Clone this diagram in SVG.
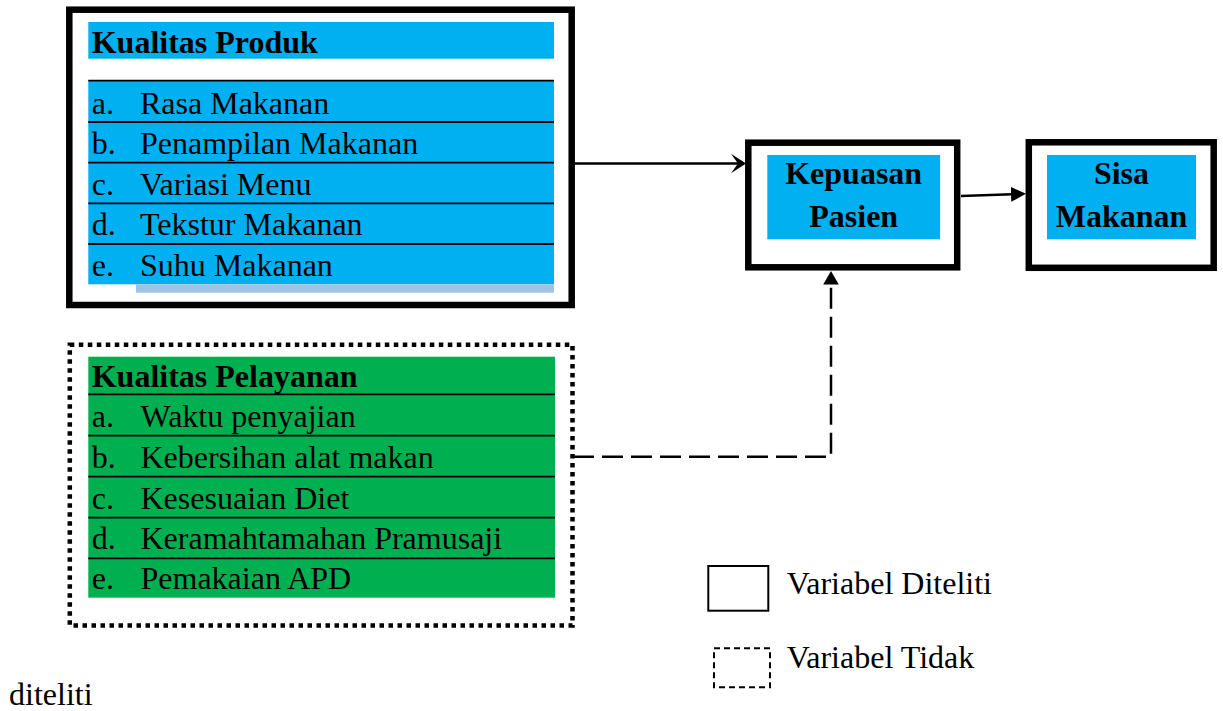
<svg xmlns="http://www.w3.org/2000/svg" width="1223" height="711" viewBox="0 0 1223 711">
<style>
.t{font-family:"Liberation Serif","Times New Roman",serif;font-size:32px;fill:#000}
.b{font-weight:bold}
.c{text-anchor:middle}
.lg{font-size:32px}
.sep{stroke:#000;stroke-width:1.8}
.thick{fill:#fff;stroke:#000;stroke-width:6.5}
.blue{fill:#00B0F0}
.green{fill:#00B050}
.conn{fill:none;stroke:#000;stroke-width:2.5}
</style>
<defs>
<marker id="notch" markerUnits="userSpaceOnUse" markerWidth="16" markerHeight="20" viewBox="0 0 16 20" refX="7" refY="10" orient="auto">
<path d="M0,0.3 L15,10 L0,19.7 L7,10 Z" fill="#000"/>
</marker>
<marker id="tri" markerUnits="userSpaceOnUse" markerWidth="15" markerHeight="16" viewBox="0 0 15 16" refX="1" refY="8" orient="auto">
<path d="M0,0.5 L15,8 L0,15.5 Z" fill="#000"/>
</marker>
</defs>
<rect width="1223" height="711" fill="#fff"/>

<g id="kualitas-produk">
<rect class="thick" x="69.3" y="9.7" width="502.4" height="295.3"/>
<rect class="blue" x="88.3" y="22" width="465.7" height="36.7"/>
<rect class="blue" x="88.3" y="80.3" width="465.7" height="204"/>
<rect x="136" y="284.3" width="418" height="8.4" fill="#9DC3E6"/>
<line class="sep" x1="88.3" y1="80.6" x2="554" y2="80.6"/>
<line class="sep" x1="88.3" y1="122" x2="554" y2="122"/>
<line class="sep" x1="88.3" y1="162.7" x2="554" y2="162.7"/>
<line class="sep" x1="88.3" y1="203.3" x2="554" y2="203.3"/>
<line class="sep" x1="88.3" y1="244" x2="554" y2="244"/>
<text class="t b" x="91.7" y="53.3">Kualitas Produk</text>
<text class="t" x="91.7" y="114">a.</text><text class="t" x="140" y="114">Rasa Makanan</text>
<text class="t" x="91.7" y="154.3">b.</text><text class="t" x="140" y="154.3">Penampilan Makanan</text>
<text class="t" x="91.7" y="195">c.</text><text class="t" x="140" y="195">Variasi Menu</text>
<text class="t" x="91.7" y="235.3">d.</text><text class="t" x="140" y="235.3">Tekstur Makanan</text>
<text class="t" x="91.7" y="276">e.</text><text class="t" x="140" y="276">Suhu Makanan</text>
</g>

<g id="kualitas-pelayanan">
<rect x="69.8" y="344.7" width="502.7" height="280.8" fill="#fff" stroke="#000" stroke-width="4.5" stroke-dasharray="4.5 4.5"/>
<rect class="green" x="88.3" y="356.7" width="466.7" height="241"/>
<line class="sep" x1="88.3" y1="394.3" x2="555" y2="394.3"/>
<line class="sep" x1="88.3" y1="435.7" x2="555" y2="435.7"/>
<line class="sep" x1="88.3" y1="476.7" x2="555" y2="476.7"/>
<line class="sep" x1="88.3" y1="517.7" x2="555" y2="517.7"/>
<line class="sep" x1="88.3" y1="558.3" x2="555" y2="558.3"/>
<text class="t b" x="91.7" y="386.7">Kualitas Pelayanan</text>
<text class="t" x="91.7" y="427.3">a.</text><text class="t" x="140.5" y="427.3">Waktu penyajian</text>
<text class="t" x="91.7" y="467.7">b.</text><text class="t" x="140.5" y="467.7">Kebersihan alat makan</text>
<text class="t" x="91.7" y="509">c.</text><text class="t" x="140.5" y="509">Kesesuaian Diet</text>
<text class="t" x="91.7" y="549">d.</text><text class="t" x="140.5" y="549">Keramahtamahan Pramusaji</text>
<text class="t" x="91.7" y="589.3">e.</text><text class="t" x="140.5" y="589.3">Pemakaian APD</text>
</g>

<g id="kepuasan-pasien">
<rect class="thick" x="748.3" y="142.7" width="208.9" height="124.6"/>
<rect class="blue" x="767.3" y="155" width="172.8" height="84.3"/>
<text class="t b c" x="853.7" y="184.3">Kepuasan</text>
<text class="t b c" x="853.7" y="226.7">Pasien</text>
</g>

<g id="sisa-makanan">
<rect class="thick" x="1028.8" y="142.3" width="184.9" height="125.5"/>
<rect class="blue" x="1047" y="155" width="149" height="84.3"/>
<text class="t b c" x="1121.5" y="184.3">Sisa</text>
<text class="t b c" x="1121.5" y="226.7">Makanan</text>
</g>

<g id="legend">
<rect x="708.3" y="566" width="60" height="44.7" fill="none" stroke="#000" stroke-width="2"/>
<text class="t lg" x="786.7" y="594.3">Variabel Diteliti</text>
<rect x="714" y="648.3" width="56" height="39" fill="none" stroke="#000" stroke-width="2" stroke-dasharray="6 4"/>
<text class="t lg" x="786.7" y="668.3">Variabel Tidak</text>
<text class="t" x="9" y="705">diteliti</text>
</g>

<g id="connectors">
<line class="conn" x1="575" y1="163.5" x2="738" y2="163.5" marker-end="url(#notch)"/>
<line class="conn" x1="961" y1="196" x2="1012" y2="194.3" stroke-width="2" marker-end="url(#tri)"/>
<polyline class="conn" points="573,456.7 831,456.7 831,284" stroke-dasharray="21 8"/>
<path d="M831,271 L838.8,284.5 L823.2,284.5 Z" fill="#000"/>
</g>
</svg>
